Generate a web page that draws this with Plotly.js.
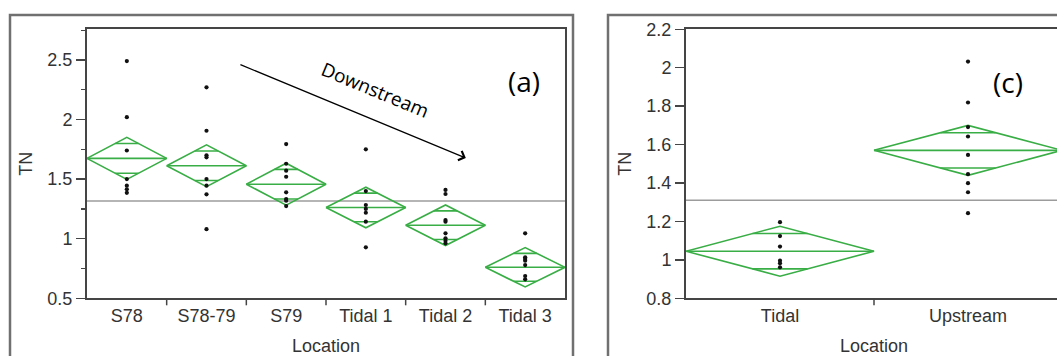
<!DOCTYPE html>
<html>
<head>
<meta charset="utf-8">
<script src="https://cdn.plot.ly/plotly-3.0.1.min.js"></script>
<style>
html,body{margin:0;padding:0;overflow:hidden;background:#fff;}
#chart{width:1075px;height:356px;}
</style>
</head>
<body>
<div id="chart"></div>
<script>
// ---------- Panel (a) data ----------
const catsA = ['S78', 'S78-79', 'S79', 'Tidal 1', 'Tidal 2', 'Tidal 3'];
const meansA = [1.674, 1.612, 1.457, 1.262, 1.113, 0.760];
const ciHalfA = [0.176, 0.175, 0.176, 0.170, 0.170, 0.165];
const ptsS78 = [2.49, 2.02, 1.74, 1.50, 1.445, 1.415, 1.385];
const ptsS7879 = [2.27, 1.906, 1.70, 1.683, 1.50, 1.445, 1.372, 1.08];
const ptsS79 = [1.794, 1.629, 1.571, 1.52, 1.389, 1.333, 1.319, 1.274];
const ptsTidal1 = [1.75, 1.40, 1.283, 1.25, 1.218, 1.143, 0.928];
const ptsTidal2 = [1.409, 1.375, 1.157, 1.143, 1.045, 1.003, 0.983, 0.961];
const ptsTidal3 = [1.045, 0.844, 0.83, 0.815, 0.779, 0.687, 0.659];
const grandMeanA = 1.316;
const yTicksA = [0.5, 1, 1.5, 2, 2.5];

// ---------- Panel (c) data ----------
const catsC = ['Tidal', 'Upstream'];
const meansC = [1.045, 1.570];
const ciHalfC = [0.130, 0.130];
const ptsTidal = [1.196, 1.124, 1.069, 0.996, 0.982, 0.961];
const ptsUpstream = [2.032, 1.819, 1.691, 1.642, 1.546, 1.446, 1.399, 1.352, 1.243];
const grandMeanC = 1.31;
const yTicksC = [0.8, 1, 1.2, 1.4, 1.6, 1.8, 2, 2.2];

const pointsA = [ptsS78, ptsS7879, ptsS79, ptsTidal1, ptsTidal2, ptsTidal3];
const pointsC = [ptsTidal, ptsUpstream];

// ---------- styles ----------
const GREEN = '#3aae46';
const AXIS = '#454545';
const TXT = '#333333';
const FONT = 'Liberation Sans, Arial, sans-serif';
const W = 1075, H = 356;

function diamondTrace(means, halfs, xa, ya) {
  const xs = [], ys = [];
  const k = 1 / Math.SQRT2;
  const hw = 0.5 * (1 - k);
  means.forEach((m, i) => {
    const h = halfs[i];
    xs.push(i - 0.5, i, i + 0.5, i, i - 0.5, null);
    ys.push(m, m + h, m, m - h, m, null);
    xs.push(i - 0.5, i + 0.5, null);
    ys.push(m, m, null);
    xs.push(i - hw, i + hw, null);
    ys.push(m + h * k, m + h * k, null);
    xs.push(i - hw, i + hw, null);
    ys.push(m - h * k, m - h * k, null);
  });
  return {x: xs, y: ys, xaxis: xa, yaxis: ya, type: 'scatter', mode: 'lines',
          line: {color: GREEN, width: 1.6}, connectgaps: false, hoverinfo: 'skip'};
}
function pointTrace(groups, xa, ya) {
  const xs = [], ys = [];
  groups.forEach((g, i) => g.forEach(v => { xs.push(i); ys.push(v); }));
  return {x: xs, y: ys, xaxis: xa, yaxis: ya, type: 'scatter', mode: 'markers',
          marker: {color: '#111', size: 4.2}};
}
function meanLine(g, n, xa, ya) {
  return {x: [-0.5, n - 0.5], y: [g, g], xaxis: xa, yaxis: ya, type: 'scatter',
          mode: 'lines', line: {color: '#9c9c9c', width: 1.6}};
}
function boundaryTicks(n, xref, yref, plotH) {
  const out = [];
  for (let i = 0; i < n - 1; i++) {
    out.push({type: 'line', xref: xref, yref: yref + ' domain', x0: i + 0.5, x1: i + 0.5,
              y0: 0, y1: -7 / plotH, line: {color: AXIS, width: 1.5}});
  }
  return out;
}

const plotTop = 29.3, plotBot = 298.3;
const yDom = [1 - plotBot / H, 1 - plotTop / H];
const plotH = plotBot - plotTop;

const data = [
  meanLine(grandMeanA, catsA.length, 'x', 'y'),
  diamondTrace(meansA, ciHalfA, 'x', 'y'),
  pointTrace(pointsA, 'x', 'y'),
  meanLine(grandMeanC, catsC.length, 'x2', 'y2'),
  diamondTrace(meansC, ciHalfC, 'x2', 'y2'),
  pointTrace(pointsC, 'x2', 'y2')
];

function xAxis(domain, cats, anchor) {
  return {
    domain: domain, anchor: anchor, range: [-0.5, cats.length - 0.5],
    tickvals: cats.map((c, i) => i), ticktext: cats,
    ticks: '',
    showline: true, mirror: true, linecolor: AXIS, linewidth: 2,
    showgrid: false, zeroline: false,
    tickfont: {family: FONT, size: 18, color: TXT},
    title: {text: 'Location', font: {family: FONT, size: 18, color: TXT}, standoff: 15}
  };
}
function yAxis(domain, range, ticks, anchor, minor) {
  const ax = {
    domain: domain, anchor: anchor, range: range,
    tickvals: ticks, ticks: 'outside', ticklen: 9, tickwidth: 1.5, tickcolor: AXIS,
    showline: true, mirror: true, linecolor: AXIS, linewidth: 2,
    showgrid: false, zeroline: false,
    tickfont: {family: FONT, size: 18, color: TXT},
    title: {text: 'TN', font: {family: FONT, size: 18, color: TXT}, standoff: 10}
  };
  if (minor) ax.minor = {dtick: 0.25, tick0: 0.5, ticks: 'outside', ticklen: 4, tickwidth: 1.2, tickcolor: AXIS, showgrid: false};
  return ax;
}

const layout = {
  width: W, height: H,
  margin: {l: 0, r: 0, t: 0, b: 0},
  paper_bgcolor: '#fff', plot_bgcolor: '#fff',
  showlegend: false,
  xaxis: xAxis([87 / W, 565 / W], catsA, 'y'),
  yaxis: yAxis(yDom, [0.5, 2.757], yTicksA, 'x', true),
  xaxis2: xAxis([686 / W, 1062 / W], catsC, 'y2'),
  yaxis2: yAxis(yDom, [0.8, 2.2], yTicksC, 'x2', false),
  shapes: [
    {type: 'rect', xref: 'paper', yref: 'paper', x0: 10 / W, x1: 573 / W, y0: -0.1, y1: 1 - 15 / H,
     line: {color: '#707070', width: 2.5}},
    {type: 'rect', xref: 'paper', yref: 'paper', x0: 608 / W, x1: 1.1, y0: -0.1, y1: 1 - 15 / H,
     line: {color: '#707070', width: 2.5}}
  ].concat(boundaryTicks(catsA.length, 'x', 'y', plotH), boundaryTicks(catsC.length + 1, 'x2', 'y2', plotH)),
  annotations: [
    {xref: 'x', yref: 'y', x: 4.255, y: 1.677, ax: 1.407, ay: 2.466, axref: 'x', ayref: 'y',
     text: '', showarrow: true, arrowhead: 4, arrowsize: 1.6, arrowwidth: 1.2, arrowcolor: '#000'},
    {xref: 'x', yref: 'y', x: 3.12, y: 2.245, text: 'Downstream', showarrow: false, textangle: 22.5,
     font: {family: 'Open Sans, sans-serif', size: 19, color: '#000'}},
    {xref: 'paper', yref: 'paper', x: 524 / W, y: 1 - 60 / H, text: '(a)', showarrow: false,
     font: {family: 'Open Sans, sans-serif', size: 28, color: '#000'}},
    {xref: 'paper', yref: 'paper', x: 1025 / W, y: 1 - 61 / H, text: '(c)', showarrow: false,
     font: {family: 'Open Sans, sans-serif', size: 28, color: '#000'}}
  ]
};

Plotly.newPlot('chart', data, layout, {staticPlot: true, displayModeBar: false});
</script>
</body>
</html>
